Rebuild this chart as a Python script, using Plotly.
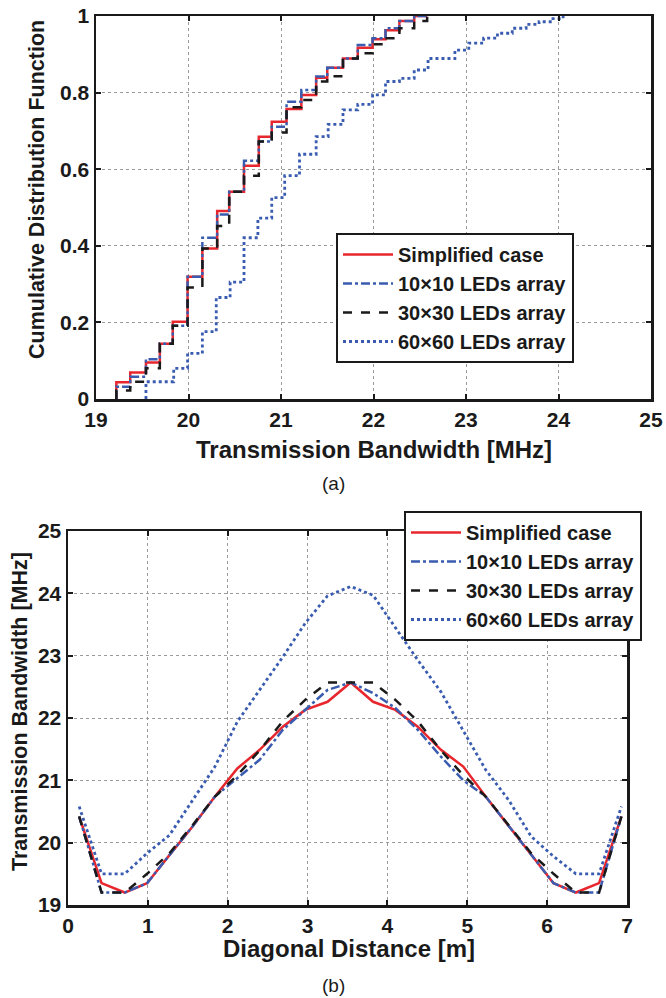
import plotly.graph_objects as go

# ---------------- (a) CDF data ----------------
cdf_labels = ["Simplified case", "10×10 LEDs array", "30×30 LEDs array", "60×60 LEDs array"]

bw_simpl = [19.22, 19.37, 19.54, 19.69, 19.83, 19.99, 20.15, 20.31, 20.44, 20.60, 20.76, 20.90,
            21.06, 21.22, 21.38, 21.50, 21.67, 21.83, 21.99, 22.13, 22.28, 22.44, 22.58]
cdf_simpl = [0.044, 0.069, 0.095, 0.144, 0.202, 0.319, 0.393, 0.491, 0.541, 0.609, 0.685, 0.724,
             0.757, 0.794, 0.839, 0.865, 0.889, 0.917, 0.939, 0.963, 0.987, 1.0, 1.0]

bw_10 = [19.22, 19.37, 19.54, 19.69, 19.83, 19.99, 20.15, 20.31, 20.44, 20.60, 20.76, 20.90,
         21.06, 21.22, 21.38, 21.50, 21.67, 21.83, 21.99, 22.13, 22.28, 22.44, 22.58]
cdf_10 = [0.032, 0.058, 0.104, 0.144, 0.191, 0.319, 0.421, 0.482, 0.541, 0.622, 0.672, 0.711,
          0.776, 0.807, 0.842, 0.865, 0.889, 0.924, 0.942, 0.968, 0.987, 1.0, 1.0]

bw_30 = [19.22, 19.37, 19.54, 19.69, 19.83, 19.99, 20.15, 20.31, 20.44, 20.60, 20.76, 20.90,
         21.06, 21.22, 21.38, 21.50, 21.67, 21.83, 21.99, 22.13, 22.28, 22.44, 22.58]
cdf_30 = [0.022, 0.045, 0.080, 0.144, 0.191, 0.291, 0.393, 0.452, 0.541, 0.583, 0.672, 0.696,
          0.762, 0.781, 0.829, 0.843, 0.889, 0.903, 0.926, 0.942, 0.968, 0.987, 1.0]

bw_60 = [19.54, 19.84, 19.99, 20.15, 20.30, 20.45, 20.60, 20.75, 20.90, 21.04, 21.20, 21.38,
         21.51, 21.67, 21.83, 21.99, 22.13, 22.28, 22.44, 22.59, 22.88, 23.03, 23.19, 23.34,
         23.50, 23.65, 23.79, 23.94, 24.05]
cdf_60 = [0.045, 0.080, 0.119, 0.176, 0.265, 0.305, 0.421, 0.472, 0.526, 0.583, 0.639, 0.685,
          0.717, 0.755, 0.769, 0.794, 0.829, 0.837, 0.859, 0.889, 0.911, 0.929, 0.942, 0.955,
          0.968, 0.978, 0.985, 0.993, 1.0]

cdf_xticks = [19, 20, 21, 22, 23, 24, 25]
cdf_yticks = [0, 0.2, 0.4, 0.6, 0.8, 1]

# ---------------- (b) bandwidth vs diagonal distance ----------------
dist = [0.14, 0.42, 0.71, 0.99, 1.27, 1.56, 1.84, 2.12, 2.40, 2.69, 2.97, 3.25, 3.54,
        3.82, 4.10, 4.38, 4.67, 4.95, 5.23, 5.52, 5.80, 6.08, 6.36, 6.65, 6.93]
bw_d_simpl = [20.42, 19.35, 19.20, 19.35, 19.80, 20.26, 20.74, 21.19, 21.49, 21.86, 22.13, 22.26, 22.57,
              22.26, 22.13, 21.86, 21.49, 21.22, 20.74, 20.26, 19.80, 19.35, 19.20, 19.35, 20.42]
bw_d_10 = [20.42, 19.20, 19.20, 19.35, 19.80, 20.26, 20.74, 21.03, 21.33, 21.81, 22.13, 22.45, 22.57,
           22.40, 22.16, 21.81, 21.38, 21.00, 20.74, 20.26, 19.80, 19.35, 19.20, 19.20, 20.42]
bw_d_30 = [20.42, 19.20, 19.20, 19.50, 19.83, 20.28, 20.74, 21.08, 21.48, 21.95, 22.29, 22.57, 22.57,
           22.57, 22.29, 21.95, 21.48, 21.08, 20.74, 20.28, 19.83, 19.50, 19.20, 19.20, 20.42]
bw_d_60 = [20.58, 19.50, 19.50, 19.83, 20.12, 20.68, 21.22, 21.94, 22.45, 22.98, 23.52, 23.96, 24.11,
           23.97, 23.45, 22.93, 22.42, 21.80, 21.17, 20.68, 20.10, 19.78, 19.50, 19.50, 20.58]

dist_xticks = [0, 1, 2, 3, 4, 5, 6, 7]
bw_yticks = [19, 20, 21, 22, 23, 24, 25]

# ---------------- styles ----------------
RED = "#e8262d"
BLUE = "#3a5cb0"
BLACK = "#1a1a1a"
styles = [
    dict(color=RED, width=2.5, dash="solid"),
    dict(color=BLUE, width=2.5, dash="dashdot"),
    dict(color=BLACK, width=2.5, dash="dash"),
    dict(color=BLUE, width=2.8, dash="dot"),
]
FONT = "Liberation Sans, Arial, Helvetica, sans-serif"

fig = go.Figure()

cdf_sets = [(bw_simpl, cdf_simpl), (bw_10, cdf_10), (bw_30, cdf_30), (bw_60, cdf_60)]
for (xs, ys), name, st in zip(cdf_sets, cdf_labels, styles):
    fig.add_trace(go.Scatter(x=[xs[0]] + xs, y=[0] + ys, mode="lines", line_shape="hv",
                             line=st, name=name, xaxis="x", yaxis="y", legend="legend"))

dist_sets = [bw_d_simpl, bw_d_10, bw_d_30, bw_d_60]
for ys, name, st in zip(dist_sets, cdf_labels, styles):
    fig.add_trace(go.Scatter(x=dist, y=ys, mode="lines", line=st, name=name,
                             xaxis="x2", yaxis="y2", legend="legend2"))

W, H = 666, 998
def px_x(p):
    return p / W
def px_y(p):
    return 1 - p / H

axis_common = dict(
    showline=True, linecolor=BLACK, linewidth=2.5, mirror="ticks",
    ticks="inside", ticklen=5, tickwidth=2, tickcolor=BLACK,
    showgrid=True, gridcolor="#9a9a9a", griddash="dot", gridwidth=1,
    zeroline=False, automargin=False,
    tickfont=dict(family=FONT, size=21, color=BLACK, weight="bold"),
)

legend_common = dict(
    bgcolor="white", bordercolor=BLACK, borderwidth=2,
    font=dict(family=FONT, size=20, color=BLACK, weight="bold"),
    xanchor="left", yanchor="top", itemwidth=50, tracegroupgap=0,
)

fig.update_layout(
    width=W, height=H,
    margin=dict(l=0, r=0, t=0, b=0, autoexpand=False),
    paper_bgcolor="white", plot_bgcolor="white",
    showlegend=True,
    xaxis=dict(domain=[px_x(96), px_x(651)], range=[19, 25], tickvals=cdf_xticks,
               anchor="y", **axis_common),
    yaxis=dict(domain=[px_y(399), px_y(16)], range=[0, 1], tickvals=cdf_yticks,
               ticktext=[str(v) for v in cdf_yticks], anchor="x", **axis_common),
    xaxis2=dict(domain=[px_x(68), px_x(627)], range=[0, 7], tickvals=dist_xticks,
                anchor="y2", **axis_common),
    yaxis2=dict(domain=[px_y(905), px_y(531)], range=[19, 25], tickvals=bw_yticks,
                anchor="x2", **axis_common),
    legend=dict(x=px_x(336), y=px_y(233), **legend_common),
    legend2=dict(x=px_x(404), y=px_y(511), **legend_common),
)

htitle = dict(family=FONT, size=24, color=BLACK, weight="bold")
vtitle = dict(family=FONT, size=21.5, color=BLACK, weight="bold")
ann = [
    dict(text="Cumulative Distribution Function", x=px_x(37), y=px_y(190), textangle=-90, font=vtitle),
    dict(text="Transmission Bandwidth [MHz]", x=px_x(374), y=px_y(449), font=htitle),
    dict(text="(a)", x=px_x(333), y=px_y(483), font=dict(family=FONT, size=19, color=BLACK)),
    dict(text="Transmission Bandwidth [MHz]", x=px_x(20), y=px_y(712), textangle=-90, font=vtitle),
    dict(text="Diagonal Distance [m]", x=px_x(349), y=px_y(948), font=htitle),
    dict(text="(b)", x=px_x(333), y=px_y(985), font=dict(family=FONT, size=19, color=BLACK)),
]
for a in ann:
    fig.add_annotation(xref="paper", yref="paper", showarrow=False,
                       xanchor="center", yanchor="middle", **a)

fig.write_html("out.html", config={"displayModeBar": False, "staticPlot": True},
               post_script="document.body.style.margin='0';document.body.style.overflow='hidden';")
